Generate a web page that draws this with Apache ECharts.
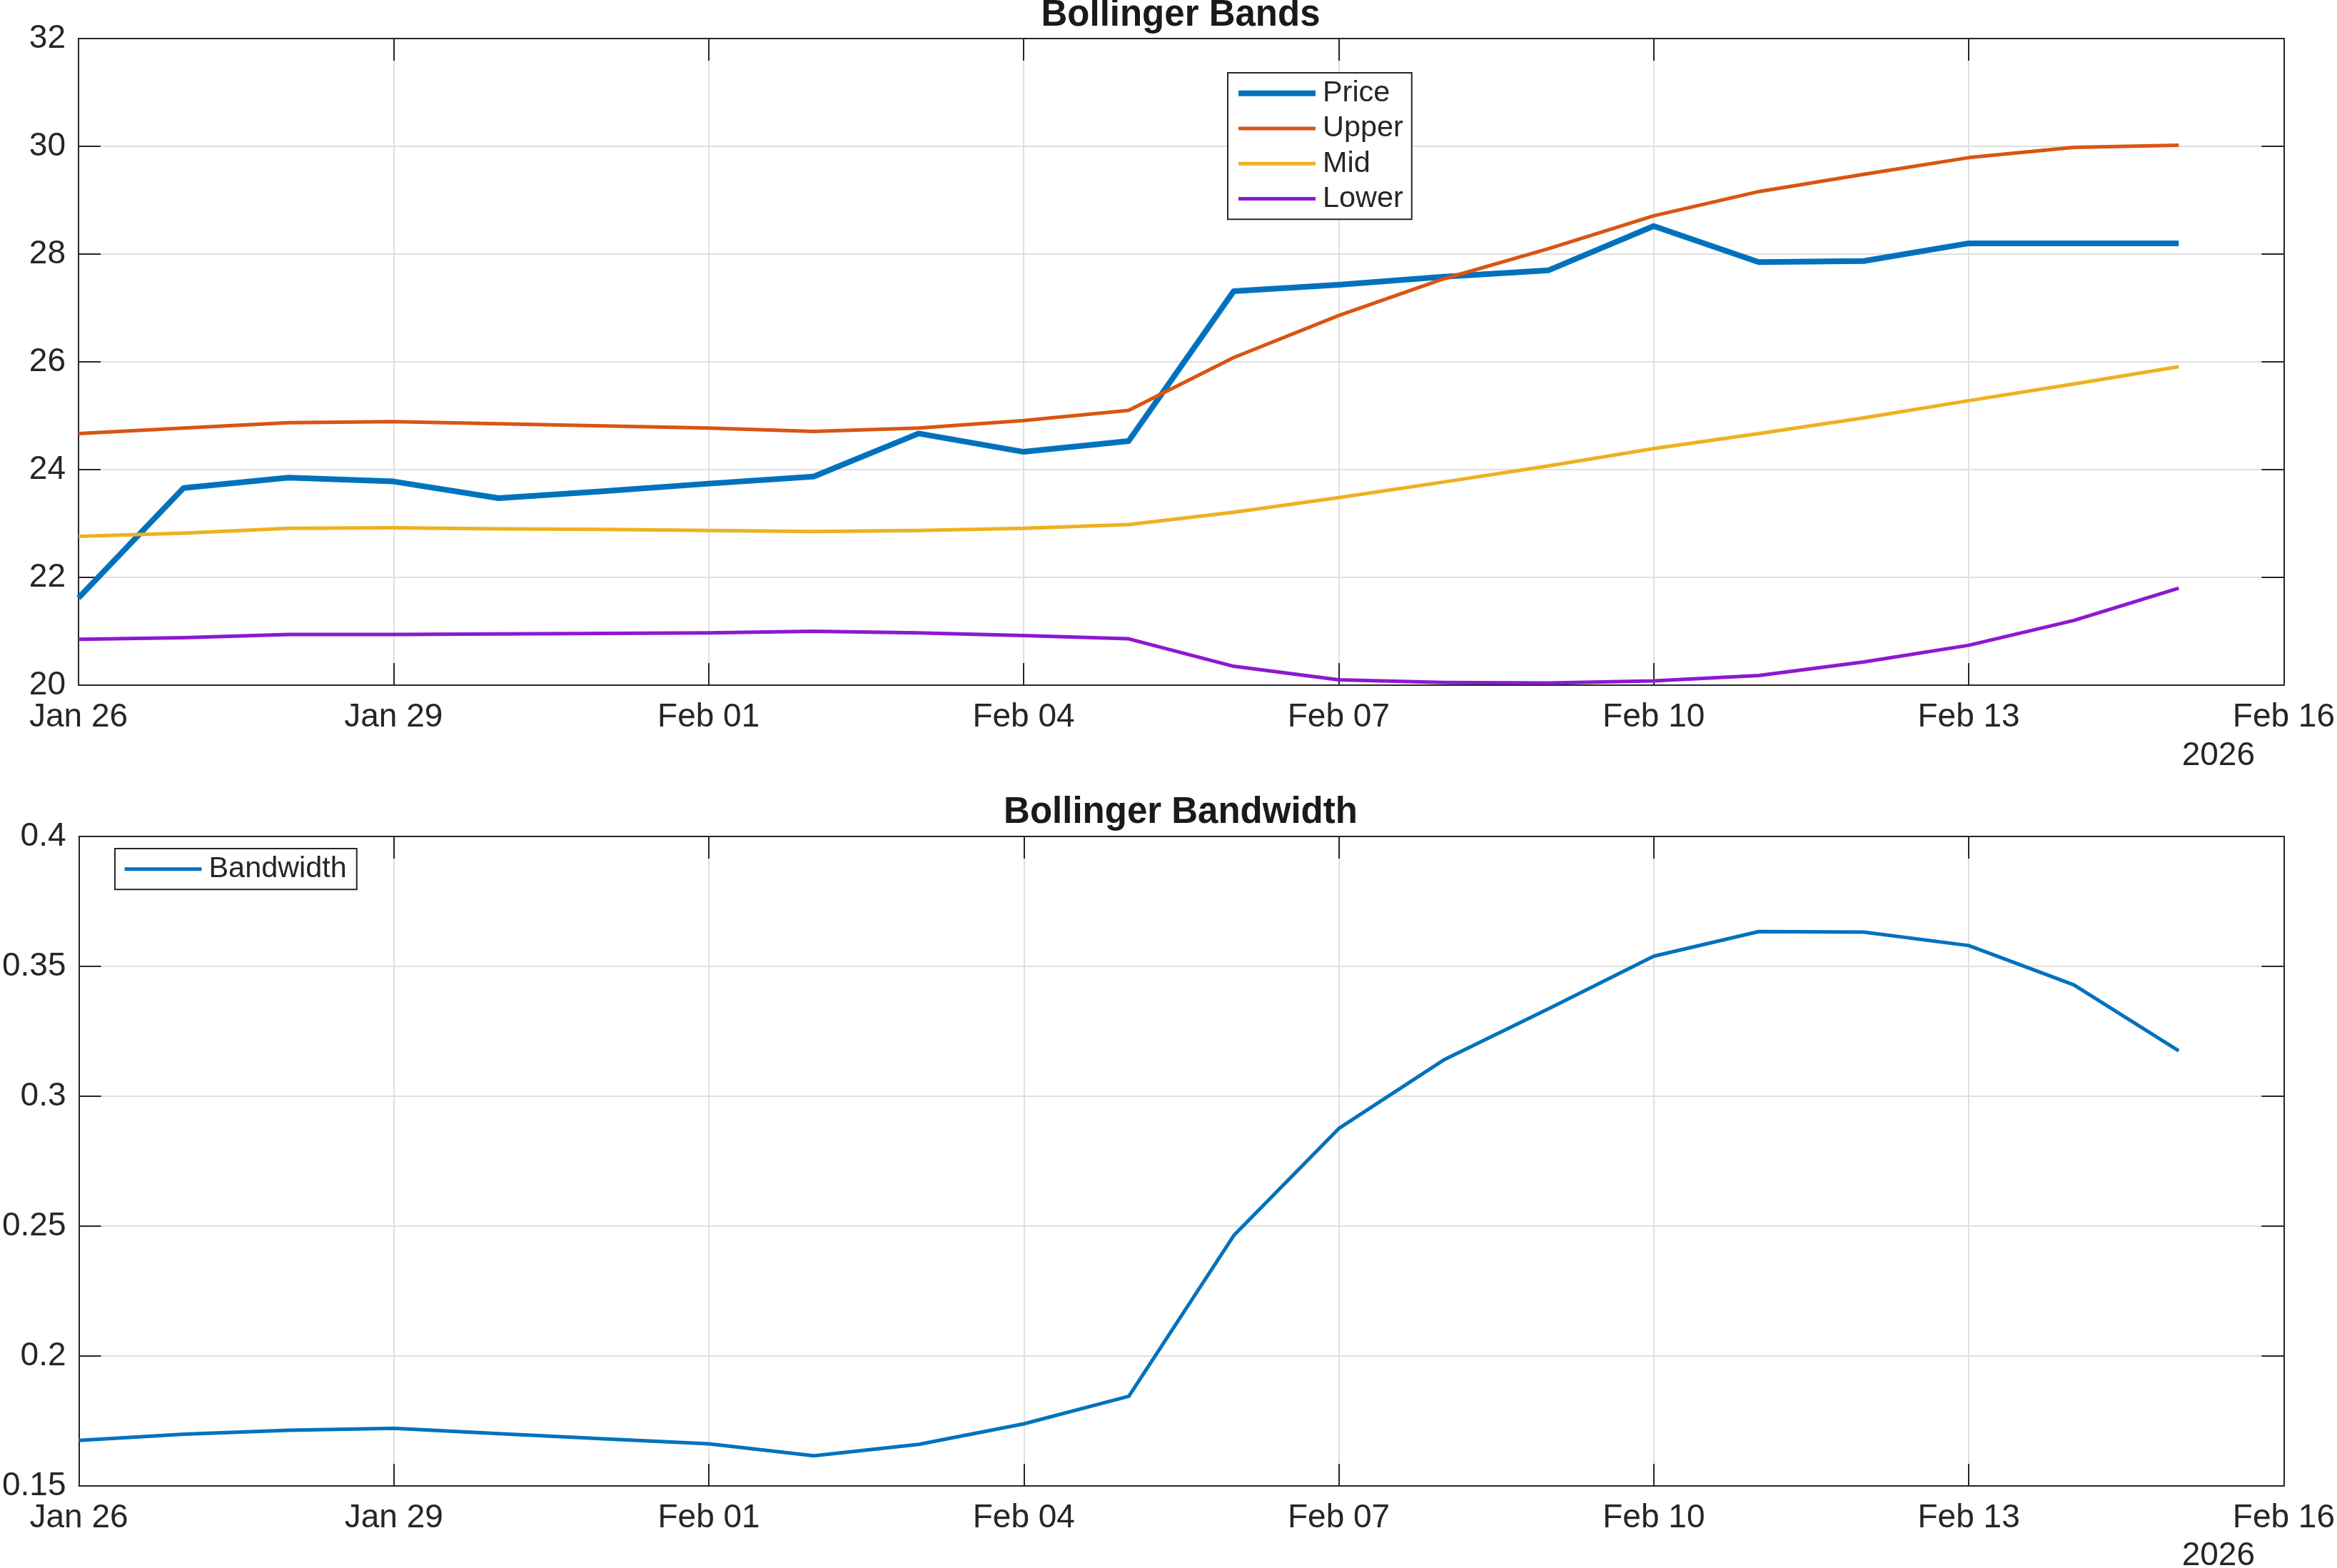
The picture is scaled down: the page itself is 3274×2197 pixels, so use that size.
<!DOCTYPE html>
<html>
<head>
<meta charset="utf-8">
<script src="https://cdn.jsdelivr.net/npm/echarts@6/dist/echarts.min.js"></script>
<style>
html,body{margin:0;padding:0;background:#fff;}
#chart{width:3274px;height:2197px;}
</style>
</head>
<body>
<div id="chart"></div>
<script>
// ---------------- data ----------------
const dates = ['2026-01-26','2026-01-27','2026-01-28','2026-01-29','2026-01-30','2026-01-31','2026-02-01',
               '2026-02-02','2026-02-03','2026-02-04','2026-02-05','2026-02-06','2026-02-07','2026-02-08',
               '2026-02-09','2026-02-10','2026-02-11','2026-02-12','2026-02-13','2026-02-14','2026-02-15'];
const price = [21.62,23.66,23.85,23.78,23.47,23.60,23.74,23.87,24.67,24.33,24.53,27.31,27.43,27.58,
               27.70,28.52,27.85,27.87,28.20,28.20,28.20];
const upper = [24.67,24.77,24.87,24.89,24.85,24.81,24.77,24.71,24.77,24.91,25.10,26.08,26.86,27.54,
               28.10,28.71,29.16,29.48,29.79,29.98,30.02];
const mid   = [22.76,22.82,22.91,22.92,22.90,22.89,22.87,22.85,22.87,22.91,22.98,23.21,23.48,23.77,
               24.07,24.39,24.67,24.96,25.28,25.59,25.91];
const lower = [20.85,20.88,20.94,20.94,20.95,20.96,20.97,21.00,20.97,20.92,20.86,20.35,20.10,20.05,
               20.04,20.08,20.18,20.43,20.74,21.20,21.80];
const bandwidth = [0.1675,0.1699,0.1714,0.1722,0.1701,0.1681,0.1662,0.1616,0.1660,0.1739,0.1845,0.2464,
                   0.2876,0.3140,0.3337,0.3539,0.3634,0.3632,0.3580,0.3429,0.3175];
const xTickLabels = ['Jan 26','Jan 29','Feb 01','Feb 04','Feb 07','Feb 10','Feb 13','Feb 16'];
const yearLabel = '2026';
const titles = ['Bollinger Bands','Bollinger Bandwidth'];
const seriesNames = ['Price','Upper','Mid','Lower'];
const bwName = 'Bandwidth';

// ---------------- helpers ----------------
const FONT = '"Liberation Sans", Arial, Helvetica, sans-serif';
const AX = '#262626';
const day0 = Date.parse(dates[0]);
const dayIdx = d => (Date.parse(d) - day0) / 86400000;
const toPts = vals => dates.map((d, i) => [dayIdx(d), vals[i]]);

function xAxisCfg(grid, pos, main) {
  return {
    type: 'value', gridIndex: grid, position: pos, min: 0, max: 21, interval: 3,
    axisLine: {show: true, onZero: false, lineStyle: {color: AX, width: 2}},
    axisTick: {show: true, inside: true, length: 31, lineStyle: {color: AX, width: 2}},
    axisLabel: {show: main, showMinLabel: true, showMaxLabel: true, fontSize: 46, fontFamily: FONT,
                color: AX, margin: 22, formatter: v => xTickLabels[Math.round(v / 3)]},
    splitLine: {show: main, lineStyle: {color: '#e0e0e0', width: 2}}
  };
}
function yAxisCfg(grid, pos, main, min, max, interval) {
  return {
    type: 'value', gridIndex: grid, position: pos, min: min, max: max, interval: interval,
    axisLine: {show: true, onZero: false, lineStyle: {color: AX, width: 2}},
    axisTick: {show: true, inside: true, length: 31, lineStyle: {color: AX, width: 2}},
    axisLabel: {show: main, showMinLabel: true, showMaxLabel: true, fontSize: 46, fontFamily: FONT,
                color: AX, margin: 18},
    splitLine: {show: main, lineStyle: {color: '#e0e0e0', width: 2}}
  };
}
function lineSeries(name, vals, color, width, xi, yi) {
  return {
    name: name, type: 'line', data: toPts(vals), xAxisIndex: xi, yAxisIndex: yi,
    symbol: 'none', showSymbol: false,
    lineStyle: {color: color, width: width, join: 'round'},
    itemStyle: {color: color},
    emphasis: {disabled: true}
  };
}
const legendBase = {
  orient: 'vertical', itemGap: 0, itemWidth: 108, itemHeight: 20,
  selectedMode: false, backgroundColor: '#fff', borderColor: AX, borderWidth: 2,
  lineStyle: {width: 'inherit'},
  itemStyle: {opacity: 0},
  textStyle: {fontSize: 41.4, fontFamily: FONT, color: AX, lineHeight: 49.3, padding: [0, 0, 0, 5]}
};

const option = {
  animation: false,
  backgroundColor: '#fff',
  grid: [
    {left: 110, top: 54, width: 3090, height: 906, containLabel: false},
    {left: 110, top: 1172, width: 3090, height: 910, containLabel: false}
  ],
  xAxis: [
    xAxisCfg(0, 'bottom', true), xAxisCfg(0, 'top', false),
    xAxisCfg(1, 'bottom', true), xAxisCfg(1, 'top', false)
  ],
  yAxis: [
    yAxisCfg(0, 'left', true, 20, 32, 2), yAxisCfg(0, 'right', false, 20, 32, 2),
    yAxisCfg(1, 'left', true, 0.15, 0.4, 0.05), yAxisCfg(1, 'right', false, 0.15, 0.4, 0.05)
  ],
  legend: [
    Object.assign({}, legendBase, {data: seriesNames, left: 1720, top: 102, padding: [4, 12, 4, 11]}),
    Object.assign({}, legendBase, {data: [bwName], left: 161, top: 1189, padding: [4, 14, 4, 11]})
  ],
  graphic: [
    {type: 'text', x: 1654, y: 22, silent: true,
     style: {text: titles[0], font: 'bold 51px ' + FONT, fill: '#1a1a1a',
             textAlign: 'center', align: 'center', textVerticalAlign: 'middle', verticalAlign: 'middle'}},
    {type: 'text', x: 1654, y: 1139, silent: true,
     style: {text: titles[1], font: 'bold 51px ' + FONT, fill: '#1a1a1a',
             textAlign: 'center', align: 'center', textVerticalAlign: 'middle', verticalAlign: 'middle'}},
    {type: 'text', x: 3159, y: 1059, silent: true,
     style: {text: yearLabel, font: '46px ' + FONT, fill: AX,
             textAlign: 'right', align: 'right', textVerticalAlign: 'middle', verticalAlign: 'middle'}},
    {type: 'text', x: 3159, y: 2180, silent: true,
     style: {text: yearLabel, font: '46px ' + FONT, fill: AX,
             textAlign: 'right', align: 'right', textVerticalAlign: 'middle', verticalAlign: 'middle'}}
  ],
  series: [
    lineSeries(seriesNames[0], price, '#0072BD', 8, 0, 0),
    lineSeries(seriesNames[1], upper, '#DA5412', 5, 0, 0),
    lineSeries(seriesNames[2], mid, '#EDB120', 5, 0, 0),
    lineSeries(seriesNames[3], lower, '#8C19D2', 5, 0, 0),
    lineSeries(bwName, bandwidth, '#0072BD', 5, 2, 2)
  ]
};

const chart = echarts.init(document.getElementById('chart'), null, {renderer: 'canvas'});
chart.setOption(option);
</script>
</body>
</html>
